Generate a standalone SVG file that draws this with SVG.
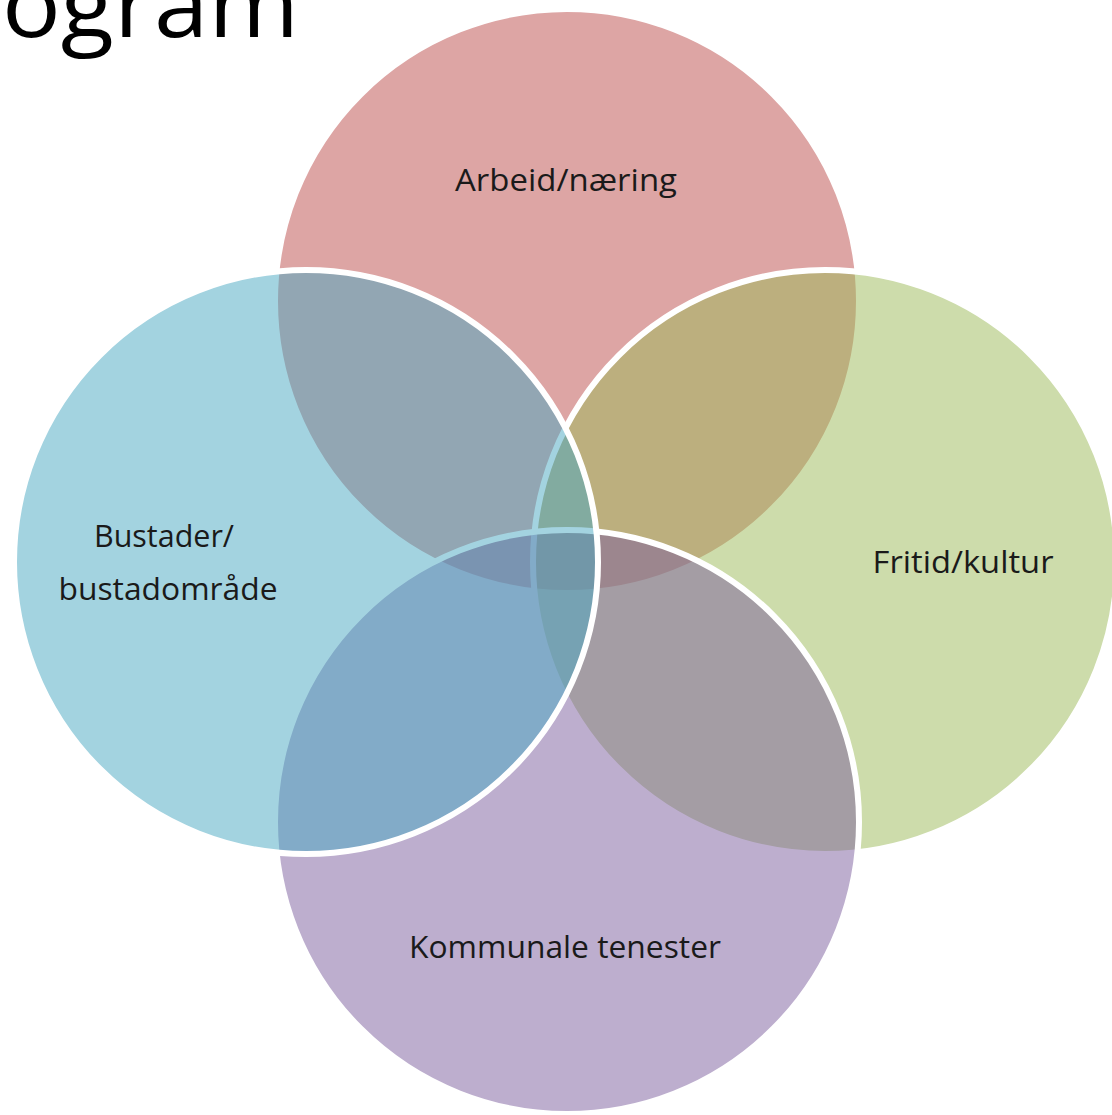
<svg xmlns="http://www.w3.org/2000/svg" width="1112" height="1115" viewBox="0 0 1112 1115">
  <style>
    .c { stroke: #ffffff; stroke-width: 6; }
    .lbl { font-family: "Open Sans", "Liberation Sans", sans-serif; font-size: 31px; fill: #1a1a1a; text-anchor: middle; }
    .title { font-family: "Open Sans", "Liberation Sans", sans-serif; font-weight: 400; font-size: 92px; fill: #000000; }
  </style>
  <rect width="1112" height="1115" fill="#ffffff"/>
  <text class="title" x="2" y="37" textLength="297" lengthAdjust="spacingAndGlyphs">ogram</text>
  <g id="arbeid">
    <circle class="c" cx="567" cy="301" r="292" fill="#DDA5A4"/>
    <text class="lbl" x="566" y="191" textLength="222" lengthAdjust="spacingAndGlyphs">Arbeid/næring</text>
  </g>
  <g id="fritid">
    <circle class="c" cx="825" cy="562" r="292" fill="#9BB957" fill-opacity="0.5"/>
    <text class="lbl" x="963" y="573" textLength="181" lengthAdjust="spacingAndGlyphs">Fritid/kultur</text>
  </g>
  <g id="kommunale">
    <circle class="c" cx="567" cy="822" r="292" fill="#7B5D9D" fill-opacity="0.5"/>
    <text class="lbl" x="565" y="958" textLength="312" lengthAdjust="spacingAndGlyphs">Kommunale tenester</text>
  </g>
  <g id="bustader">
    <circle class="c" cx="306" cy="562" r="292" fill="#47A7C1" fill-opacity="0.5"/>
    <text class="lbl" x="164" y="547" textLength="140" lengthAdjust="spacingAndGlyphs">Bustader/</text>
    <text class="lbl" x="168" y="600" textLength="219" lengthAdjust="spacingAndGlyphs">bustadområde</text>
  </g>
  <g id="connectors"></g>
</svg>
